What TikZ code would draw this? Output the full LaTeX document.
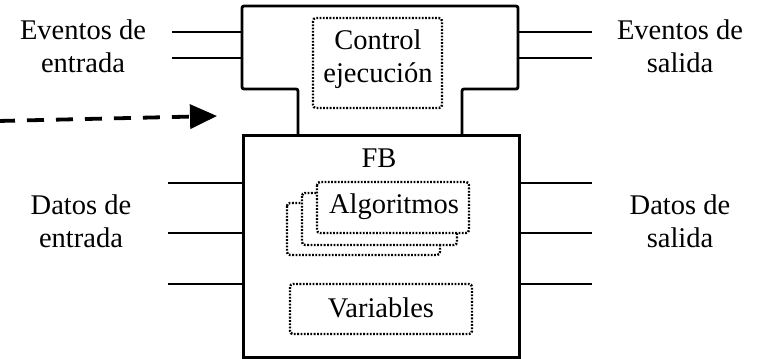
\documentclass[tikz,border=0pt]{standalone}
\usepackage{fontspec}
\setmainfont{Liberation Serif}
\usetikzlibrary{arrows.meta}
\begin{document}
\begin{tikzpicture}[x=1pt,y=-1pt,
  every node/.style={font=\fontsize{28.5}{33}\selectfont, inner sep=0pt, align=center},
  solidline/.style={line width=2.8pt},
  dotbox/.style={line width=2.4pt, dash pattern=on 1.8pt off 1.5pt, rounded corners=3pt, fill=white},
  dasharrow/.style={line width=3.8pt, dash pattern=on 17pt off 12pt, -{Triangle[length=27pt,width=24pt]}}
]
\useasboundingbox (0,0) rectangle (761,359);
% lower FB box
\node[draw, solidline, minimum width=276pt, minimum height=222pt, anchor=north west] (fb) at (242,134) {};
% upper control box
\draw[solidline, rounded corners=2pt] (298,134) -- (298,89) -- (242,89) -- (242,6) -- (518,6) -- (518,89) -- (462,89) -- (462,134);
% event lines
\coordinate (eil1) at (172,32); \coordinate (eil1b) at (242,32);
\coordinate (eil2) at (172,58); \coordinate (eil2b) at (242,58);
\coordinate (eor1) at (592,32); \coordinate (eor1b) at (518,32);
\coordinate (eor2) at (592,58); \coordinate (eor2b) at (518,58);
\draw[solidline] (eil1) -- (eil1b);
\draw[solidline] (eil2) -- (eil2b);
\draw[solidline] (eor1b) -- (eor1);
\draw[solidline] (eor2b) -- (eor2);
% data lines
\foreach \yy/\nm in {183/a,233/b,284/c}{
  \coordinate (dl\nm) at (168,\yy); \coordinate (dlb\nm) at (242,\yy);
  \coordinate (dr\nm) at (592,\yy); \coordinate (drb\nm) at (518,\yy);
  \draw[solidline] (dl\nm) -- (dlb\nm);
  \draw[solidline] (drb\nm) -- (dr\nm);
}
% labels
\node (evin) at (83,46) {Eventos de\\entrada};
\node (evout) at (680,46) {Eventos de\\salida};
\node (din) at (81,221) {Datos de\\entrada};
\node (dout) at (680,221) {Datos de\\salida};
% control
\draw[dotbox] (313,18) rectangle (442,108);
\node (ctrl) at (378,59) {Control\\ejecución};
% FB
\node (fbl) at (379,158) {FB};
% algoritmos stack
\draw[dotbox] (287,203) rectangle (440,255);
\draw[dotbox] (302,193) rectangle (457,245);
\draw[dotbox] (317,182) rectangle (469,233);
\node (alg) at (394,207) {Algoritmos};
% variables
\draw[dotbox] (290,284) rectangle (472,334);
\node (var) at (381,308) {Variables};
% dashed arrow
\coordinate (as) at (-2,121);
\coordinate (ae) at (217,116);
\draw[dasharrow] (as) -- (ae);
\end{tikzpicture}
\end{document}
